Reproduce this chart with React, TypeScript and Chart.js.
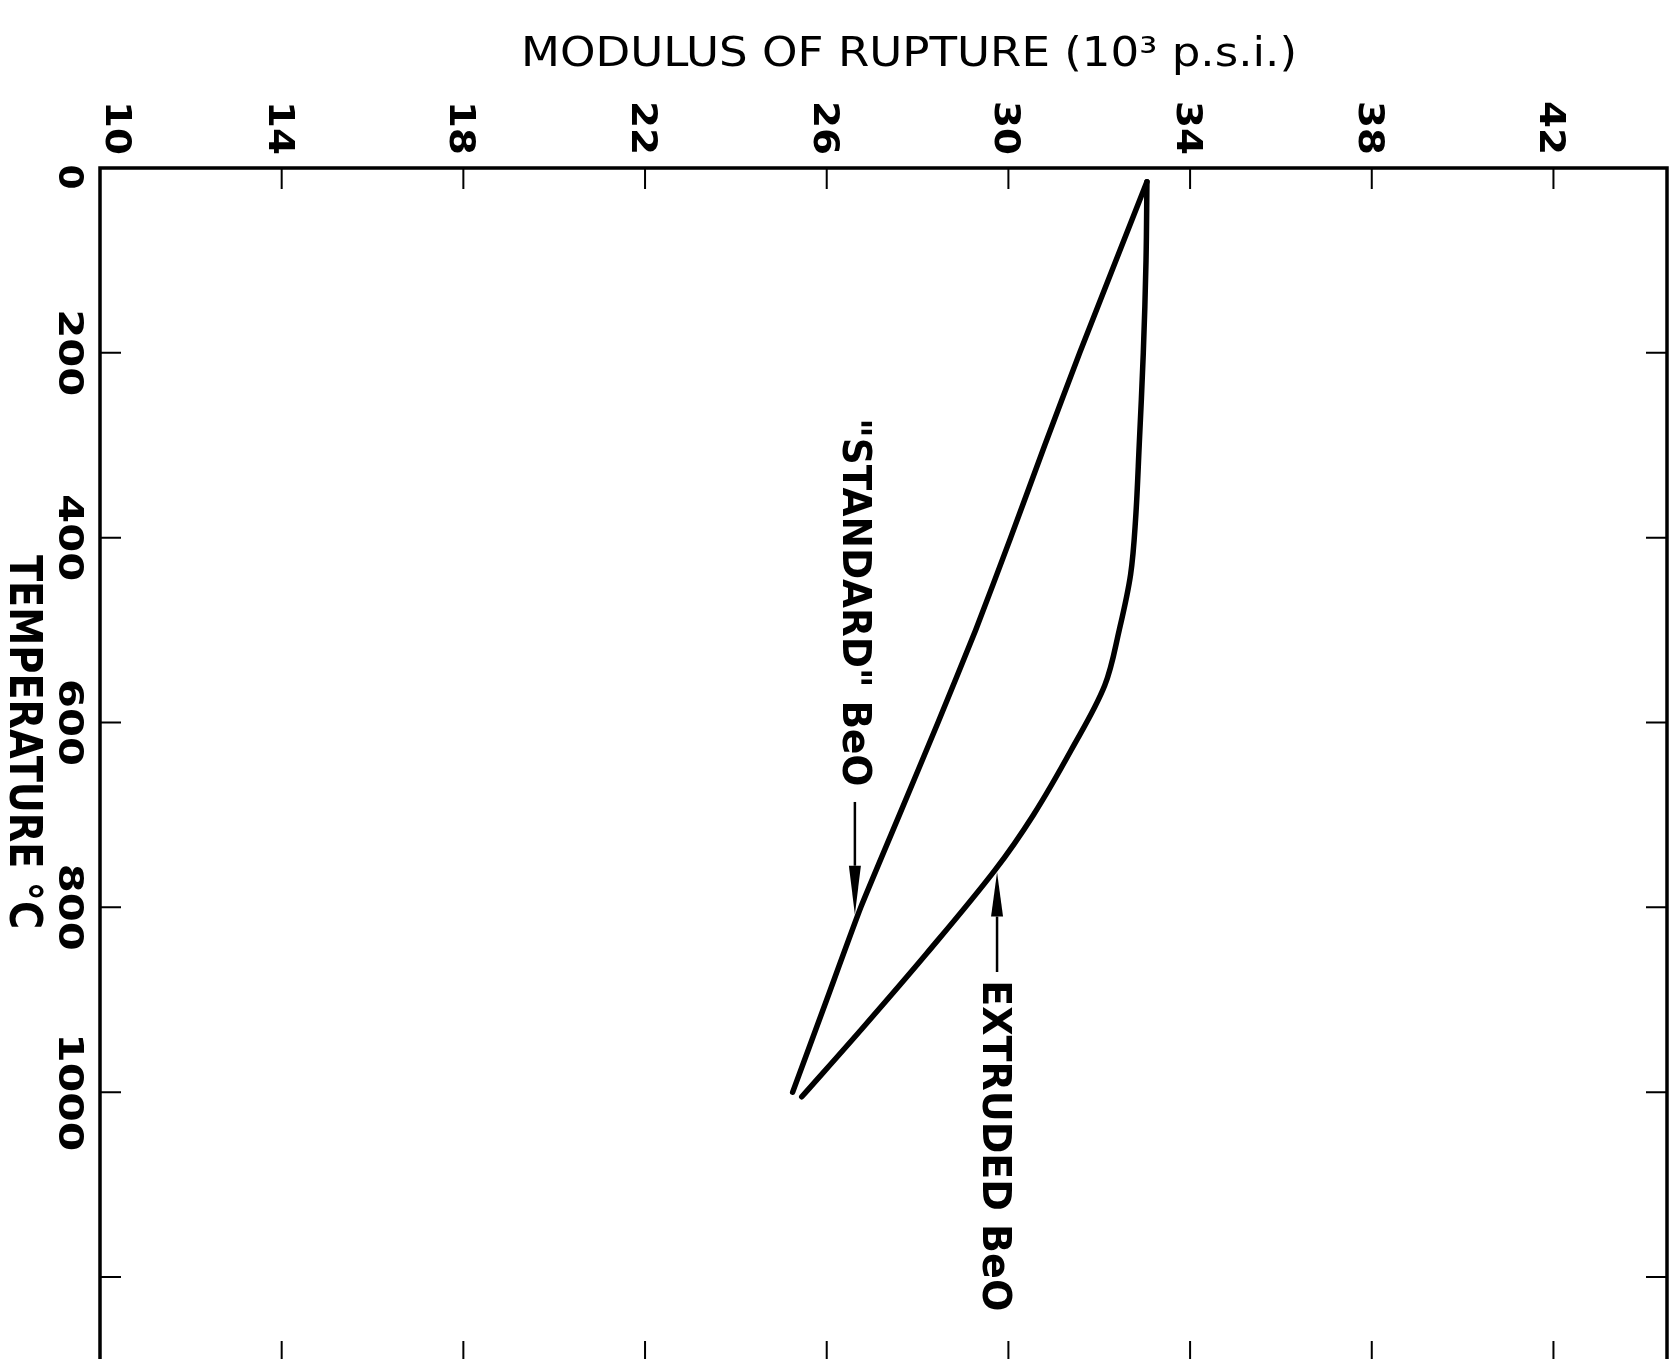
import { useEffect, useRef } from "react";
import { Chart, registerables } from "chart.js";

Chart.register(...registerables);

// ---- data ----
const xTicks = [10, 14, 18, 22, 26, 30, 34, 38, 42];
const yTicks = [0, 200, 400, 600, 800, 1000, 1200];
const yTickLabels = [0, 200, 400, 600, 800, 1000];
const xMin = 10;
const xMax = 44.5;
const yMin = 0;
const yMax = 1292;

const standardTemp = [15, 200, 300, 400, 500, 600, 700, 800, 900, 1000];
const standardMod = [33.05, 31.57, 30.8, 30.05, 29.28, 28.45, 27.6, 26.75, 26.0, 25.25];

const extrudedTemp = [15, 100, 200, 300, 380, 440, 500, 560, 630, 700, 760, 850, 930, 1005];
const extrudedMod = [33.05, 33.03, 32.97, 32.88, 32.8, 32.69, 32.44, 32.12, 31.38, 30.55, 29.7, 28.2, 26.8, 25.45];

const xTitle = "MODULUS OF RUPTURE (10\u00B3 p.s.i.)";
const yTitle = "TEMPERATURE \u00B0C";
const standardLabel = '"STANDARD" BeO';
const extrudedLabel = "EXTRUDED BeO";

// annotation anchors (data coordinates: modulus, temperature)
const standardNote = { mod: 26.62, textTemp: 470, lineStart: 686, headBase: 755, tip: 808 };
const extrudedNote = { mod: 29.75, textTemp: 1058, lineStart: 870, headBase: 810, tip: 762 };

const FONT = '"DejaVu Sans"';

function drawFit(
  ctx: CanvasRenderingContext2D,
  text: string,
  cx: number,
  cy: number,
  angle: number,
  weight: string,
  capH: number,
  len: number
) {
  const size = capH / 0.73;
  ctx.save();
  ctx.font = `${weight} ${size}px ${FONT}`;
  const w = ctx.measureText(text).width;
  ctx.translate(cx, cy);
  ctx.rotate(angle);
  ctx.scale(len / w, 1);
  ctx.textAlign = "center";
  ctx.textBaseline = "alphabetic";
  ctx.fillStyle = "#000";
  ctx.fillText(text, 0, capH / 2);
  ctx.restore();
}

const decorPlugin = {
  id: "decor",
  afterDatasetsDraw(chart: any) {
    const ctx: CanvasRenderingContext2D = chart.ctx;
    const { left, top, right, bottom } = chart.chartArea;
    const xs = chart.scales.x;
    const ys = chart.scales.y;
    const CW = Math.PI / 2;

    ctx.save();
    ctx.strokeStyle = "#000";
    ctx.fillStyle = "#000";
    ctx.lineCap = "butt";

    // frame
    ctx.lineWidth = 3.5;
    ctx.strokeRect(left, top, right - left, bottom - top);

    // ticks (inward on all four sides)
    ctx.lineWidth = 2;
    const tl = 21;
    xTicks.forEach((v) => {
      if (v === xMin) return;
      const x = xs.getPixelForValue(v);
      ctx.beginPath();
      ctx.moveTo(x, top);
      ctx.lineTo(x, top + tl);
      ctx.moveTo(x, bottom);
      ctx.lineTo(x, bottom - tl);
      ctx.stroke();
    });
    yTicks.forEach((v) => {
      if (v === yMin) return;
      const y = ys.getPixelForValue(v);
      ctx.beginPath();
      ctx.moveTo(left, y);
      ctx.lineTo(left + tl, y);
      ctx.moveTo(right, y);
      ctx.lineTo(right - tl, y);
      ctx.stroke();
    });

    // top tick labels (rotated clockwise)
    xTicks.forEach((v) => {
      const s = String(v);
      const x = Math.max(xs.getPixelForValue(v), left + 19);
      drawFit(ctx, s, x, 128, CW, "bold", 26, s.length * 27);
    });
    // left tick labels
    yTickLabels.forEach((v) => {
      const s = String(v);
      const y = Math.max(ys.getPixelForValue(v), top + 9);
      drawFit(ctx, s, 71, y, CW, "bold", 25, s.length * 31 - 6);
    });

    // axis titles
    drawFit(ctx, xTitle, 909, 51, 0, "normal", 30, 776);
    drawFit(ctx, yTitle, 26, 742, CW, "bold", 32, 374);

    // STANDARD annotation
    {
      const x = xs.getPixelForValue(standardNote.mod);
      const cy = ys.getPixelForValue(standardNote.textTemp);
      drawFit(ctx, standardLabel, x + 3, cy, CW, "bold", 29, 368);
      const y0 = ys.getPixelForValue(standardNote.lineStart);
      const yb = ys.getPixelForValue(standardNote.headBase);
      const yt = ys.getPixelForValue(standardNote.tip);
      ctx.lineWidth = 2.5;
      ctx.beginPath();
      ctx.moveTo(x, y0);
      ctx.lineTo(x, yb);
      ctx.stroke();
      ctx.beginPath();
      ctx.moveTo(x - 6, yb);
      ctx.lineTo(x + 6, yb);
      ctx.lineTo(x, yt);
      ctx.closePath();
      ctx.fill();
    }
    // EXTRUDED annotation
    {
      const x = xs.getPixelForValue(extrudedNote.mod);
      const cy = ys.getPixelForValue(extrudedNote.textTemp);
      drawFit(ctx, extrudedLabel, x, cy, CW, "bold", 29, 331);
      const y0 = ys.getPixelForValue(extrudedNote.lineStart);
      const yb = ys.getPixelForValue(extrudedNote.headBase);
      const yt = ys.getPixelForValue(extrudedNote.tip);
      ctx.lineWidth = 2.5;
      ctx.beginPath();
      ctx.moveTo(x, y0);
      ctx.lineTo(x, yb);
      ctx.stroke();
      ctx.beginPath();
      ctx.moveTo(x - 6, yb);
      ctx.lineTo(x + 6, yb);
      ctx.lineTo(x, yt);
      ctx.closePath();
      ctx.fill();
    }
    ctx.restore();
  },
};

export default function App() {
  const ref = useRef<HTMLCanvasElement | null>(null);

  useEffect(() => {
    document.body.style.margin = "0";
    document.body.style.overflow = "hidden";
    document.body.style.background = "#fff";
    if (!ref.current) return;

    const standard = standardTemp.map((t, i) => ({ x: standardMod[i], y: t }));
    const extruded = extrudedTemp.map((t, i) => ({ x: extrudedMod[i], y: t }));

    const chart = new Chart(ref.current, {
      type: "scatter",
      data: {
        datasets: [
          {
            label: "Standard BeO",
            data: standard,
            showLine: true,
            borderColor: "#000",
            borderWidth: 5.5,
            pointRadius: 0,
            tension: 0.15,
            borderCapStyle: "round",
            borderJoinStyle: "round",
          },
          {
            label: "Extruded BeO",
            data: extruded,
            showLine: true,
            borderColor: "#000",
            borderWidth: 5.5,
            pointRadius: 0,
            tension: 0.35,
            borderCapStyle: "round",
            borderJoinStyle: "round",
          },
        ],
      },
      options: {
        animation: false,
        responsive: false,
        devicePixelRatio: 1,
        layout: { padding: { left: 100, top: 168, right: 7, bottom: 4 } },
        plugins: { legend: { display: false }, tooltip: { enabled: false } },
        events: [],
        scales: {
          x: {
            type: "linear",
            position: "top",
            min: xMin,
            max: xMax,
            display: false,
          },
          y: {
            type: "linear",
            reverse: true,
            min: yMin,
            max: yMax,
            display: false,
          },
        },
      },
      plugins: [decorPlugin],
    } as any);

    return () => chart.destroy();
  }, []);

  return (
    <div style={{ width: 1674, height: 1359, background: "#fff", overflow: "hidden" }}>
      <canvas ref={ref} width={1674} height={1366} style={{ display: "block" }} />
    </div>
  );
}
